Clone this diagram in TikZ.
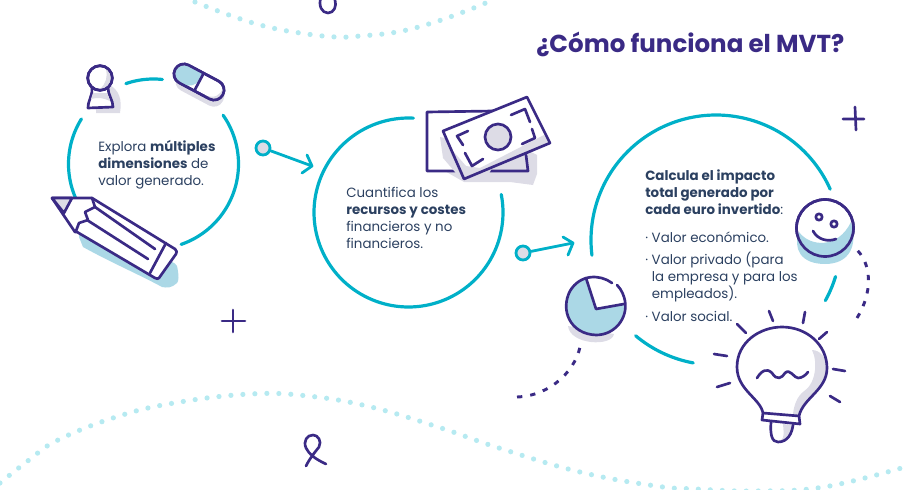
\documentclass[tikz,border=0pt]{standalone}
\usepackage{fontspec}
\setmainfont{Poppins}
\usetikzlibrary{arrows.meta}
\definecolor{cy}{HTML}{00B0C8}
\definecolor{pu}{HTML}{3A2A85}
\definecolor{gy}{HTML}{DDDCE6}
\definecolor{bl}{HTML}{ABD8E6}
\definecolor{tx}{HTML}{2B4060}
\definecolor{dt}{HTML}{B6EAF1}
\newcommand{\ringarc}[5]{\draw[ring] plot[domain=#4:#5,samples=70,smooth] ({#1+#3*cos(\x)},{#2+#3*sin(\x)});}
\tikzset{
 ring/.style={draw=cy,line width=2.4pt,line cap=round},
 ink/.style={draw=pu,line width=2pt,line cap=round,line join=round},
 dotline/.style={draw=dt,line width=3.9pt,line cap=round,dash pattern=on 0pt off 9pt},
 dashline/.style={draw=pu,line width=2.2pt,dash pattern=on 4pt off 6pt},
 shade/.style={fill=gy,draw=none},
 blue/.style={fill=bl,draw=none},
 body/.style={anchor=north west,inner sep=0pt,align=left,text=tx,font=\fontsize{10.05}{12.75}\selectfont},
 dotnode/.style={circle,minimum size=10.5pt,inner sep=0pt,draw=cy,line width=2.1pt,fill=gy},
 arrowline/.style={draw=cy,line width=2.1pt,line cap=round,line join=round},
}
\begin{document}
\begin{tikzpicture}[x=0.75pt,y=-0.75pt]
\useasboundingbox (0,0) rectangle (910,489);
% dotted waves
\draw[dotline] plot[smooth,tension=.7] coordinates {(195,2)(229,15)(264,26)(300,33)(336,37)(360,36)(397,32)(432,23)(466,11)(488,2)};
\draw[dotline] plot[smooth,tension=.7] coordinates {(0,483)(29,460)(58,440)(116,417)(174,403)(250,394)(308,396)(371,407)(441,428)(499,448)(580,472)(656,486)(696,489)(755,491)(824,487)(905,467)};
% decorative marks
\draw[ink] (321,-3) .. controls (318,6) and (322,13) .. (328,13) .. controls (334,13) and (337,6) .. (335,0);
\draw[ink] (306,466) .. controls (310,458) and (315,452) .. (319,447) .. controls (322,441) and (318,435) .. (313,435) .. controls (307,435) and (303,441) .. (306,448) .. controls (309,454) and (315,459) .. (326,464);
\draw[ink] (843,119) -- (864,119) (855,107) -- (856,130);
\draw[ink] (222,321) -- (245,321) (233,310) -- (233,332);
% circle 1
\ringarc{153.5}{164}{85}{-109}{-84}
\ringarc{153.5}{164}{85}{-35}{71}
\ringarc{153.5}{164}{85}{148}{212}
% person
\fill[shade] (108,84) .. controls (120,90) and (122,100) .. (120,113) -- (96,113) -- (96,90) -- cycle;
\draw[ink,fill=white] (92,88) .. controls (93,95) and (88,100) .. (88,108) -- (113,107) .. controls (113,100) and (108,95) .. (108,88) -- cycle;
\fill[shade] (93,93) -- (91,99) .. controls (98,97) and (104,98) .. (110,101) -- (107,93) -- cycle;
\draw[ink,fill=white] (100,78) circle (12.3);
\fill[shade] (106,69) .. controls (108,76) and (106,84) .. (100,89) .. controls (106,89) and (112,84) .. (111,76) .. controls (110,73) and (108,71) .. (106,69) -- cycle;
\draw[ink] (100,78) circle (12.3);
% pill
\begin{scope}[shift={(199,82)},rotate=-28]
\fill[shade,rounded corners=7.4pt] (-22,-5) rectangle (30,16);
\draw[ink,fill=white,rounded corners=7.4pt] (-27,-10) rectangle (27,10);
\fill[blue,rounded corners=7.4pt] (0,-9) -- (-26,-9) -- (-26,9) -- (-2,9) [sharp corners] -- cycle;
\fill[shade] (24,-6) .. controls (25,2) and (22,8) .. (10,9) -- (20,9) .. controls (27,6) and (27,-2) .. (24,-6) -- cycle;
\draw[ink] (0,-10) -- (0,10);
\draw[ink,rounded corners=7.4pt] (-27,-10) rectangle (27,10);
\end{scope}
% pencil
\fill[blue] (80,228) -- (85,227) -- (165,258) .. controls (170,262) and (175,262) .. (177,266) .. controls (179,275) and (179,281) .. (177,283) .. controls (172,288) and (167,288) .. (162,287) .. controls (140,275) and (110,262) .. (83,247) -- (79,237) -- cycle;
\draw[ink,fill=white] (52,198) -- (92,198) -- (175,249) .. controls (177,251) and (177,252) .. (176,254) -- (159,278) .. controls (158,279) and (157,279) .. (155,278) -- (77,232) -- (75,232) -- cycle;
\draw[ink,fill=gy] (52,198) -- (72,198) -- (64,213) -- cycle;
\draw[ink] (92,198) -- (95,207) -- (85,212) -- (88,220) -- (79,223) -- (76,231);
\draw[ink] (95,207) -- (155,249) (87,220) -- (148,259) (166,243) -- (150,273);
% text 1
\node[body] (t1) at (98,140.5) {Explora \textbf{múltiples}\\\textbf{dimensiones} de\\valor generado.};
% arrow 1
\node[dotnode] (d1) at (263,148) {};
\coordinate (e1) at (312,166);
\draw[arrowline] (d1) -- (e1);
\draw[arrowline] (307,155) -- (e1) -- (302,173);
% circle 2
\ringarc{408.5}{212.5}{94.5}{-87}{-371}
% money
\fill[shade] (440,137) -- (443,170) -- (464,182) -- (510,182) -- (533,185) -- (537,174) -- (537,155) -- (527,150) -- cycle;
\draw[ink,fill=white] (493,111) -- (427,112) -- (427,171) -- (455,171);
\draw[ink] (490,171) -- (528,171) -- (526,155);
\fill[shade] (440,137) -- (443,158) -- (455,172) -- (490,172) -- (500,150) -- cycle;
\fill[white] (443,131) -- (527,97) -- (550,143) -- (464,179) -- cycle;
\fill[shade] (452,150) -- (464,179) -- (550,143) -- (544,135) -- (480,168) -- (466,166) -- cycle;
\draw[ink] (443,131) -- (527,97) -- (550,143) -- (464,179) -- cycle;
\draw[ink,fill=gy] (498,137) circle (13);
\draw[ink] (468,131) -- (457,136) -- (463,145) (465,153) -- (472,166) -- (483,159) (511,115) -- (525,109) -- (530,122) (522,144) -- (535,138) -- (532,129);
% text 2
\node[body] (t2) at (346,187) {Cuantifica los\\\textbf{recursos y costes}\\financieros y no\\financieros.};
% arrow 2
\node[dotnode] (d2) at (523,253) {};
\coordinate (e2) at (573,243);
\draw[arrowline] (d2) -- (e2);
\draw[arrowline] (563,237) -- (e2) -- (568,255);
% circle 3
\ringarc{716}{240}{125}{173}{336}
\ringarc{716}{240}{125}{17}{29}
\ringarc{716}{240}{125}{100.5}{130}
% face
\draw[ink,fill=white] (825,228) circle (28.5);
\fill[blue] (799,232) .. controls (810,247) and (838,249) .. (851,222) .. controls (858,245) and (850,264) .. (825,264) .. controls (800,264) and (793,248) .. (799,232) -- cycle;
\draw[ink] (825,228) circle (28.5);
\draw[ink] (819,217) circle (3.2) (834,224) circle (3.2);
\draw[ink] (813,231) .. controls (818,240) and (828,242) .. (836,239);
\draw[dashline] (857,318) .. controls (877,285) and (868,256) .. (852,246);
% pie
\fill[shade] (568,326) .. controls (570,345) and (612,347) .. (614,334) -- cycle;
\fill[white] (596,306) circle (29);
\fill[blue] (586,278) -- (596,309) -- (624,304) .. controls (625,322) and (612,335) .. (596,335) .. controls (578,335) and (567,322) .. (567,306) .. controls (567,292) and (575,281) .. (586,278) -- cycle;
\draw[ink] (612,283) .. controls (600,274) and (580,274) .. (570,291) .. controls (560,310) and (570,334) .. (596,335) .. controls (615,335) and (628,318) .. (625,301) .. controls (624,296) and (622,290) .. (617,285);
\draw[ink] (586,278) -- (596,309) -- (624,304);
\draw[dashline] (517,397) .. controls (550,396) and (578,370) .. (581,341);
% bulb
\fill[shade] (812,350) .. controls (818,362) and (816,384) .. (803,392) .. controls (797,397) and (794,405) .. (793,414) -- (799,416) .. controls (803,398) and (827,390) .. (827,368) .. controls (827,358) and (820,350) .. (812,350) -- cycle;
\draw[ink] (763,413) .. controls (760,398) and (737,390) .. (737,367) .. controls (737,342) and (760,327) .. (782,327) .. controls (807,327) and (827,345) .. (827,368) .. controls (827,390) and (803,398) .. (799,416);
\fill[shade] (783,424) -- (793,425) .. controls (792,435) and (788,441) .. (780,441) .. controls (786,437) and (783,430) .. (783,424) -- cycle;
\draw[ink] (771,422) .. controls (770,435) and (772,442) .. (778,442) .. controls (788,442) and (792,433) .. (793,425);
\draw[ink,fill=white] (763,413) -- (799,416) -- (800,424) -- (762,420) -- cycle;
\draw[ink] (757,378) .. controls (762,370) and (767,368) .. (772,373) .. controls (777,381) and (782,378) .. (785,373) .. controls (790,368) and (794,378) .. (798,378) .. controls (802,378) and (806,375) .. (808,372);
\draw[ink] (737,324) -- (746,333) (769,311) -- (773,321) (805,312) -- (803,323) (827,332) -- (819,339) (833,369) -- (845,371) (830,396) -- (840,402) (717,387) -- (730,383) (714,354) -- (727,356);
% text 3
\node[body] (t3a) at (645,169.5) {\textbf{Calcula el impacto}\\\textbf{total generado por}\\\textbf{cada euro invertido}:};
\node[body] (t3b) at (645,231.5) {· Valor económico.\\[4pt]· Valor privado (para\\\hspace*{5pt}la empresa y para los\\\hspace*{5pt}empleados).\\[4pt]· Valor social.};
% title
\node[anchor=base west,inner sep=0pt,text=pu,font=\fontsize{18.4}{20}\selectfont\bfseries] (title) at (536,52) {¿Cómo funciona el MVT?};
\end{tikzpicture}
\end{document}
